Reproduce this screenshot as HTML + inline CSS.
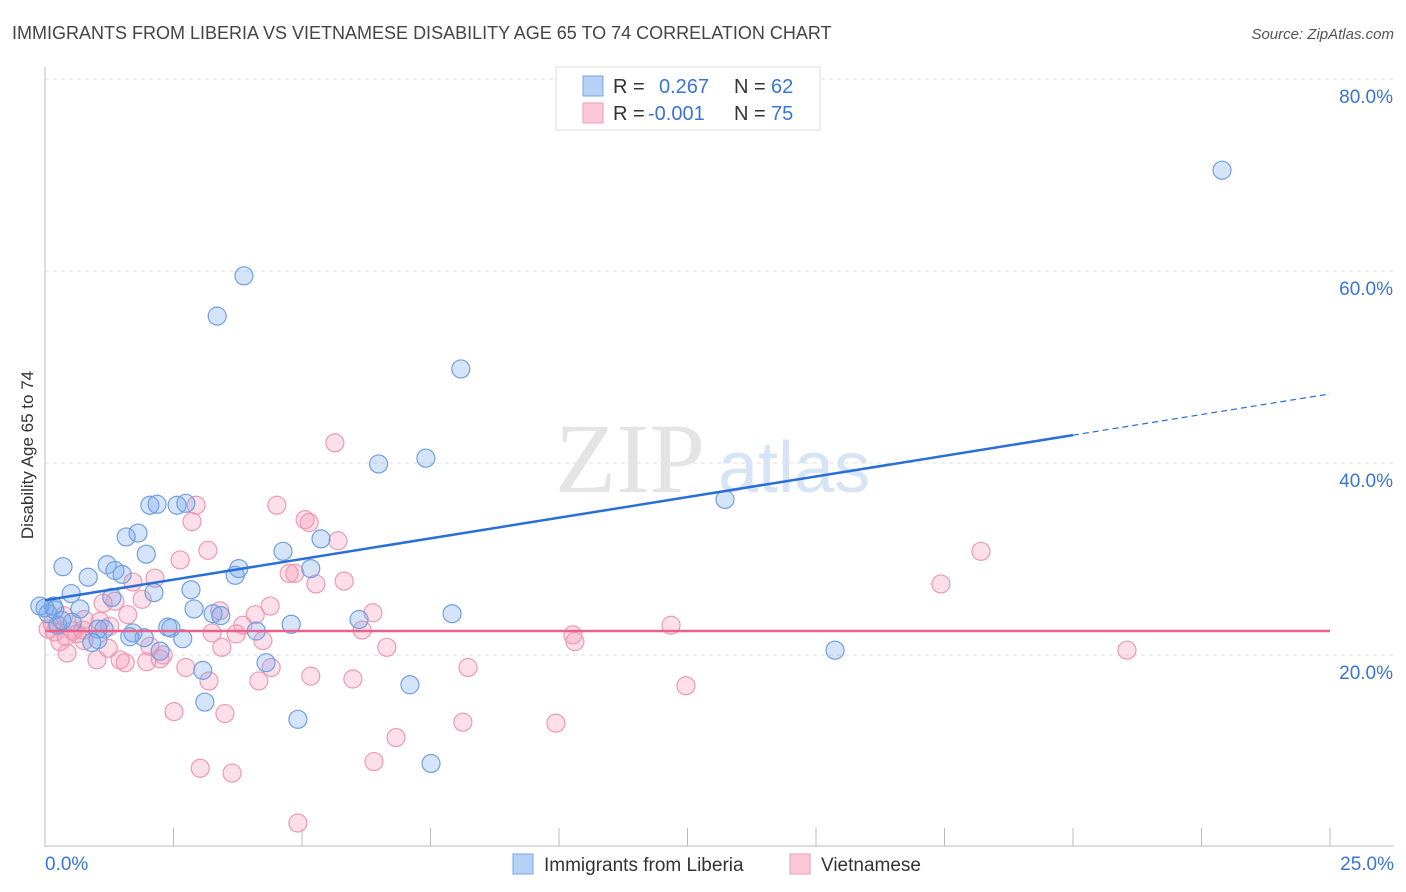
<!DOCTYPE html>
<html><head><meta charset="utf-8"><style>
body{margin:0;background:#fff;font-family:"Liberation Sans",sans-serif;}
svg{display:block}
</style></head><body>
<svg id="chart" width="1406" height="892">
<text x="12" y="39" font-size="18" fill="#444">IMMIGRANTS FROM LIBERIA VS VIETNAMESE DISABILITY AGE 65 TO 74 CORRELATION CHART</text>
<text x="1394" y="39" font-size="15" fill="#555" text-anchor="end" font-style="italic">Source: ZipAtlas.com</text>
<text transform="translate(33,455) rotate(-90)" font-size="17" fill="#333" text-anchor="middle">Disability Age 65 to 74</text>
<g id="grid"></g>
<text x="555" y="492" font-size="100" fill="#e4e4e4" font-family="Liberation Serif">ZIP</text>
<text x="718" y="492" font-size="72" fill="#d6e4f5">atlas</text>
<g id="pts"></g>
<g id="lines"></g>
<g>
<rect x="556" y="67" width="264" height="63" fill="#fff" stroke="#ddd"/>
<rect x="583" y="76" width="20" height="20" fill="#b7d0f5" stroke="#7aa6e6"/>
<rect x="583" y="103" width="20" height="20" fill="#fcc8d8" stroke="#ee9ab4"/>
<text x="613" y="93" font-size="20" fill="#333">R =</text>
<text x="659" y="93" font-size="20" fill="#3a74d4">0.267</text>
<text x="734" y="93" font-size="20" fill="#333">N =</text>
<text x="771" y="93" font-size="20" fill="#3a74d4">62</text>
<text x="613" y="120" font-size="20" fill="#333">R =</text>
<text x="648" y="120" font-size="20" fill="#3a74d4">-0.001</text>
<text x="734" y="120" font-size="20" fill="#333">N =</text>
<text x="771" y="120" font-size="20" fill="#3a74d4">75</text>
</g>
<g>
<rect x="513" y="854" width="20" height="20" fill="#b7d0f5" stroke="#7aa6e6"/>
<text x="544" y="871" font-size="19" fill="#333">Immigrants from Liberia</text>
<rect x="790" y="854" width="20" height="20" fill="#fcc8d8" stroke="#ee9ab4"/>
<text x="821" y="871" font-size="19" fill="#333">Vietnamese</text>
</g>
</svg>
<script>
const yTicks=[20,40,60,80];
const xTickLabels=["0.0%","25.0%"];
const blueX=[22.9,3.87,3.35,8.09,6.49,7.41,13.23,2.04,2.18,2.57,2.74,1.81,1.58,1.97,5.37,4.63,0.35,1.21,0.84,1.36,1.5,3.77,3.70,5.17,0.51,2.12,1.30,2.84,0.16,0.68,2.90,3.27,3.42,6.11,7.92,4.79,2.39,2.45,1.03,1.15,1.71,1.93,1.65,4.11,2.68,1.03,0.91,2.24,15.37,3.07,4.30,7.10,3.11,4.92,7.51,0,0.06,0.19,0.25,0.53,-0.1,0.33];
const blueY=[70.5,59.5,55.3,49.8,39.9,40.5,36.2,35.6,35.7,35.6,35.8,32.7,32.3,30.5,32.1,30.8,29.2,29.4,28.1,28.8,28.4,29.0,28.3,29.0,26.4,26.5,26.0,26.8,25.1,24.8,24.8,24.3,24.1,23.7,24.3,23.2,22.9,22.8,22.7,22.7,22.3,21.8,21.9,22.5,21.7,21.6,21.3,20.4,20.5,18.4,19.2,16.9,15.1,13.3,8.7,24.9,24.3,24.7,23.1,23.4,25.1,23.6];
const pinkX=[5.64,2.94,4.51,5.06,2.86,5.14,5.70,3.17,2.63,18.21,2.14,1.71,4.75,4.86,5.27,5.82,17.43,1.36,1.89,4.38,3.40,4.09,6.38,1.61,1.07,0.76,3.85,6.17,12.18,3.25,3.72,10.27,4.24,0.62,0.41,0.19,0.29,10.31,6.65,3.44,2.04,2.30,0.76,1.23,1.01,1.46,1.56,1.98,2.24,0.43,21.05,2.74,8.23,4.40,3.19,4.16,5.17,5.99,12.47,2.51,3.50,8.13,9.94,6.83,6.40,3.02,3.64,4.92,0.06,0.14,0.54,1.13,0.37,0.74,1.26];
const pinkY=[42.1,35.6,35.6,34.1,33.9,33.8,31.9,30.9,29.9,30.8,28.0,27.6,28.5,28.5,27.4,27.7,27.4,25.6,25.8,25.1,24.6,24.2,24.4,24.2,23.5,23.7,23.1,22.6,23.1,22.3,22.2,22.1,21.5,22.2,21.9,22.4,21.4,21.4,20.8,20.8,20.9,20.0,21.5,20.7,19.5,19.5,19.2,19.3,19.6,20.2,20.5,18.7,18.7,18.7,17.3,17.3,17.8,17.5,16.8,14.1,13.9,13.0,12.9,11.4,8.9,8.2,7.7,2.5,22.7,23.3,22.5,25.4,24.1,22.6,23.0];
const blueFit=[25.7,0.86]; // intercept, slope per %
const pinkFit=[22.5,0];
const NS="http://www.w3.org/2000/svg";
const X0=45,X1=1330,Y0=847,PXPER=9.6;
function sx(v){return X0+v/25*(X1-X0);}
function sy(v){return Y0-v*PXPER;}
function mk(tag,attrs,parent){const e=document.createElementNS(NS,tag);for(const k in attrs)e.setAttribute(k,attrs[k]);parent.appendChild(e);return e;}
const grid=document.getElementById('grid');
yTicks.forEach(t=>{
 const l=mk('line',{x1:X0,x2:1394,y1:sy(t),y2:sy(t),stroke:'#ddd','stroke-dasharray':'4,4'},grid);
 
 
 const tx=mk('text',{x:1393,y:sy(t)+24,'font-size':19,fill:'#3a74d4','text-anchor':'end'},grid);
 tx.textContent=t.toFixed(1)+'%';
 
 
});
const ax=mk('line',{x1:X0,x2:X0,y1:67,y2:847,stroke:'#bbb'},grid);


const bx=mk('line',{x1:X0,x2:1394,y1:846,y2:846,stroke:'#bbb'},grid);


for(let i=0;i<=10;i++){
 const t=mk('line',{x1:sx(i*2.5),x2:sx(i*2.5),y1:828,y2:846,stroke:'#bbb'},grid);
 
 
}
[[0,'start',45],[25,'end',1394]].forEach((d,i)=>{
 const tx=mk('text',{x:d[2],y:870,'font-size':19,fill:'#3a74d4','text-anchor':d[1]},grid);
 tx.textContent=xTickLabels[i];
 
 
});
const pts=document.getElementById('pts');
pinkX.forEach((x,i)=>{
 const c=mk('circle',{cx:sx(x),cy:sy(pinkY[i]),r:9,fill:'rgba(244,150,180,0.3)',stroke:'#ec9ab3','stroke-width':1.2},pts);
 
 
});
blueX.forEach((x,i)=>{
 const c=mk('circle',{cx:sx(x),cy:sy(blueY[i]),r:9,fill:'rgba(120,165,235,0.3)',stroke:'#6f9fe2','stroke-width':1.2},pts);
 
 
});
const lines=document.getElementById('lines');
const bl=mk('line',{x1:sx(0),y1:sy(blueFit[0]),x2:sx(20),y2:sy(blueFit[0]+blueFit[1]*20),stroke:'#2a6fd6','stroke-width':2.5},lines);


const bd=mk('line',{x1:sx(20),y1:sy(blueFit[0]+blueFit[1]*20),x2:sx(25),y2:sy(blueFit[0]+blueFit[1]*25),stroke:'#2a6fd6','stroke-width':1.2,'stroke-dasharray':'6,4'},lines);


const pl=mk('line',{x1:sx(0),y1:sy(pinkFit[0]),x2:sx(25),y2:sy(pinkFit[0]+pinkFit[1]*25),stroke:'#e8628c','stroke-width':2.5},lines);


</script>
</body></html>
